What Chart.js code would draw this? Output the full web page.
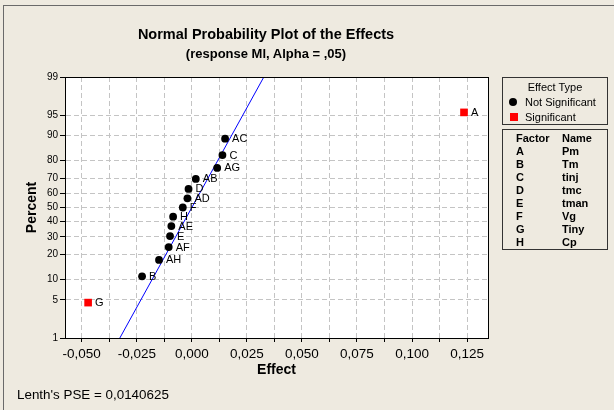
<!DOCTYPE html>
<html>
<head>
<meta charset="utf-8">
<script src="https://cdn.jsdelivr.net/npm/chart.js"></script>
<style>
    body { margin: 0; background: #EEEAE0; font-family: "Liberation Sans", Arial, sans-serif; color: #000; }
    #wrap { position: relative; width: 614px; height: 410px; overflow: hidden; }
    #frame { position: absolute; left: 3px; top: 5px; width: 700px; height: 500px; border-left: 1px solid #6a6a6a; border-top: 1px solid #6a6a6a; }
    #plot { position: absolute; left: 0; top: 0; }
    .title { position: absolute; left: 0; width: 532px; text-align: center; font-weight: bold; white-space: nowrap; }
    .box { position: absolute; border: 1px solid #333; box-sizing: border-box; font-size: 11px; }
    .abs { position: absolute; white-space: nowrap; line-height: 11px; }
    .dot { position: absolute; width: 8px; height: 8px; border-radius: 50%; background: #000; }
    .sq { position: absolute; width: 8px; height: 8px; background: #FF0000; }
    .frow { position: absolute; left: 13px; font-size: 11px; font-weight: bold; line-height: 11px; white-space: nowrap; }
    .frow span { position: absolute; left: 46px; }
</style>
</head>
<body>
<div id="wrap">
    <div id="frame"></div>
    <canvas id="plot" width="614" height="410"></canvas>
    <div class="title" style="top:27px; font-size:14.5px; line-height:14.5px;">Normal Probability Plot of the Effects</div>
    <div class="title" style="top:46.5px; font-size:13px; line-height:13px;">(response Ml, Alpha = ,05)</div>

    <div class="box" style="left:502px; top:77px; width:106px; height:48px;">
        <div class="abs" style="left:0; width:104px; text-align:center; top:4px;">Effect Type</div>
        <div class="dot" style="left:6px; top:20px;"></div>
        <div class="abs" style="left:22px; top:19px;">Not Significant</div>
        <div class="sq" style="left:7px; top:35px;"></div>
        <div class="abs" style="left:22px; top:34px;">Significant</div>
    </div>
    <div class="box" id="factors" style="left:502px; top:129px; width:106px; height:121px;"></div>

    <div class="abs" style="left:17px; top:388px; font-size:13.4px; line-height:14px;">Lenth's PSE = 0,0140625</div>
</div>
<script>
    // ------------------- Data ------------------
    const effectNames = ['G', 'B', 'AH', 'AF', 'E', 'AE', 'H', 'F', 'AD', 'D', 'AB', 'AG', 'C', 'AC', 'A'];
    const effectValues = [-0.0471, -0.0226, -0.0149, -0.0105, -0.0099, -0.0093, -0.0085, -0.0041,
                          -0.0020, -0.0015, 0.0018, 0.0115, 0.0139, 0.0151, 0.1236];
    const effectPercents = [4.5, 11.0, 17.5, 24.0, 30.5, 37.0, 43.5, 50.0, 56.5, 63.0, 69.5, 76.0, 82.5, 89.0, 95.5];
    const significantTerms = ['A', 'G'];

    const fitLineEffects = [-0.0327, 0.0327];
    const fitLinePercents = [1, 99];

    const percentTicks = [1, 5, 10, 20, 30, 40, 50, 60, 70, 80, 90, 95, 99];

    const factorLetters = ['A', 'B', 'C', 'D', 'E', 'F', 'G', 'H'];
    const factorNames = ['Pm', 'Tm', 'tinj', 'tmc', 'tman', 'Vg', 'Tiny', 'Cp'];

    // ------------------- Factor table ------------------
    const box = document.getElementById('factors');
    let rows = '<div class="frow" style="top:3px">Factor<span>Name</span></div>';
    factorLetters.forEach((f, i) => {
        const top = 15.5 + i * 13.1;
        rows += '<div class="frow" style="top:' + top + 'px">' + f + '<span>' + factorNames[i] + '</span></div>';
    });
    box.innerHTML = rows;

    // ------------------- Normal probability scale ------------------
    function probit(p) {
        const a = [-3.969683028665376e+01, 2.209460984245205e+02, -2.759285104469687e+02,
                   1.383577518672690e+02, -3.066479806614716e+01, 2.506628277459239e+00];
        const b = [-5.447609879822406e+01, 1.615858368580409e+02, -1.556989798598866e+02,
                   6.680131188771972e+01, -1.328068155288572e+01];
        const c = [-7.784894002430293e-03, -3.223964580411365e-01, -2.400758277161838e+00,
                   -2.549732539343734e+00, 4.374664141464968e+00, 2.938163982698783e+00];
        const d = [7.784695709041462e-03, 3.224671290700398e-01, 2.445134137142996e+00,
                   3.754408661907416e+00];
        const pl = 0.02425;
        let q, r;
        if (p < pl) {
            q = Math.sqrt(-2 * Math.log(p));
            return (((((c[0] * q + c[1]) * q + c[2]) * q + c[3]) * q + c[4]) * q + c[5]) /
                   ((((d[0] * q + d[1]) * q + d[2]) * q + d[3]) * q + 1);
        }
        if (p > 1 - pl) {
            q = Math.sqrt(-2 * Math.log(1 - p));
            return -(((((c[0] * q + c[1]) * q + c[2]) * q + c[3]) * q + c[4]) * q + c[5]) /
                    ((((d[0] * q + d[1]) * q + d[2]) * q + d[3]) * q + 1);
        }
        q = p - 0.5;
        r = q * q;
        return (((((a[0] * r + a[1]) * r + a[2]) * r + a[3]) * r + a[4]) * r + a[5]) * q /
               (((((b[0] * r + b[1]) * r + b[2]) * r + b[3]) * r + b[4]) * r + 1);
    }

    class ProbabilityScale extends Chart.Scale {
        determineDataLimits() {
            this.min = this.options.min;
            this.max = this.options.max;
        }
        buildTicks() {
            return percentTicks.map(v => ({ value: v }));
        }
        configure() {
            super.configure();
            this._zMin = probit(this.min / 100);
            this._zMax = probit(this.max / 100);
        }
        getLabelForValue(value) {
            return String(value);
        }
        getPixelForValue(value) {
            const z = probit(value / 100);
            return this.getPixelForDecimal((z - this._zMin) / (this._zMax - this._zMin));
        }
        getValueForPixel(pixel) {
            const dec = this.getDecimalForPixel(pixel);
            const z = this._zMin + dec * (this._zMax - this._zMin);
            let lo = 1e-6, hi = 1 - 1e-6;
            for (let i = 0; i < 60; i++) {
                const mid = (lo + hi) / 2;
                if (probit(mid) < z) lo = mid; else hi = mid;
            }
            return lo * 100;
        }
    }
    ProbabilityScale.id = 'probability';
    ProbabilityScale.defaults = {};
    Chart.register(ProbabilityScale);

    // ------------------- Datasets ------------------
    const notSignificant = [];
    const significant = [];
    effectNames.forEach((name, i) => {
        const pt = { x: effectValues[i], y: effectPercents[i], name: name };
        if (significantTerms.includes(name)) significant.push(pt);
        else notSignificant.push(pt);
    });

    const data = {
        datasets: [{
            label: 'Not Significant',
            data: notSignificant,
            backgroundColor: '#000000',
            borderWidth: 0,
            pointRadius: 3.9,
            pointStyle: 'circle'
        }, {
            label: 'Significant',
            data: significant,
            backgroundColor: '#FF0000',
            borderWidth: 0,
            pointRadius: 5.4,
            pointStyle: 'rect'
        }, {
            label: 'Fit',
            data: fitLineEffects.map((x, i) => ({ x: x, y: fitLinePercents[i] })),
            showLine: true,
            borderColor: '#0000FF',
            borderWidth: 1,
            pointRadius: 0
        }]
    };

    // ------------------- Plugins ------------------
    const plotFrame = {
        id: 'plotFrame',
        beforeDraw(chart) {
            const a = chart.chartArea;
            const ctx = chart.ctx;
            ctx.save();
            ctx.fillStyle = '#FFFFFF';
            ctx.fillRect(a.left, a.top, a.right - a.left, a.bottom - a.top);
            ctx.restore();
        },
        afterDraw(chart) {
            const a = chart.chartArea;
            const ctx = chart.ctx;
            ctx.save();
            ctx.strokeStyle = '#000000';
            ctx.lineWidth = 1;
            ctx.strokeRect(Math.round(a.left) + 0.5, Math.round(a.top) + 0.5,
                           Math.round(a.right - a.left), Math.round(a.bottom - a.top));
            ctx.restore();
        }
    };

    const pointLabels = {
        id: 'pointLabels',
        afterDatasetsDraw(chart) {
            const ctx = chart.ctx;
            ctx.save();
            ctx.font = '11px "Liberation Sans", Arial, sans-serif';
            ctx.fillStyle = '#000000';
            ctx.textBaseline = 'middle';
            ctx.textAlign = 'left';
            [0, 1].forEach(di => {
                const meta = chart.getDatasetMeta(di);
                meta.data.forEach((el, i) => {
                    ctx.fillText(chart.data.datasets[di].data[i].name, el.x + 7, el.y + 0.5);
                });
            });
            ctx.restore();
        }
    };

    // ------------------- Chart Options ------------------
    const chartOptions = {
        responsive: false,
        animation: false,
        layout: { padding: { top: 77, right: 126, left: 0, bottom: 0 } },
        plugins: {
            legend: { display: false },
            tooltip: { enabled: false }
        },
        scales: {
            x: {
                type: 'linear',
                min: -0.0576,
                max: 0.1345,
                afterFit(scale) { scale.height = 72; },
                grid: { color: '#C4C4C4', tickColor: '#000000', tickLength: 4, tickBorderDash: [] },
                border: { display: true, color: '#000000', dash: [5, 3] },
                ticks: {
                    stepSize: 0.0125,
                    includeBounds: false,
                    autoSkip: false,
                    maxRotation: 0,
                    padding: 4,
                    color: '#000000',
                    font: { family: '"Liberation Sans", Arial, sans-serif', size: 13.5 },
                    callback(value) {
                        const steps = Math.round(value / 0.0125);
                        if (steps % 2 !== 0) return '';
                        const v = Math.abs(value) < 1e-9 ? 0 : value;
                        return v.toFixed(3).replace('.', ',');
                    }
                },
                title: {
                    display: true,
                    text: 'Effect',
                    color: '#000000',
                    padding: { top: 0, bottom: 33 },
                    font: { family: '"Liberation Sans", Arial, sans-serif', size: 14, weight: 'bold', lineHeight: 1 }
                }
            },
            y: {
                type: 'probability',
                min: 1,
                max: 99,
                afterFit(scale) { scale.width = 65; },
                grid: { color: '#C4C4C4', tickColor: '#000000', tickLength: 5, tickBorderDash: [] },
                border: { display: true, color: '#000000', dash: [5, 3] },
                ticks: {
                    autoSkip: false,
                    padding: 2,
                    color: '#000000',
                    font: { family: '"Liberation Sans", Arial, sans-serif', size: 10 }
                },
                title: {
                    display: true,
                    text: 'Percent',
                    color: '#000000',
                    padding: { top: 25, bottom: 0 },
                    font: { family: '"Liberation Sans", Arial, sans-serif', size: 14, weight: 'bold', lineHeight: 1 }
                }
            }
        }
    };

    // ------------------- Chart Config ------------------
    const config = {
        type: 'scatter',
        data: data,
        options: chartOptions,
        plugins: [plotFrame, pointLabels]
    };

    // ------------------- Initialize Chart ------------------
    const myChart = new Chart(
        document.getElementById('plot'),
        config
    );
</script>
</body>
</html>
